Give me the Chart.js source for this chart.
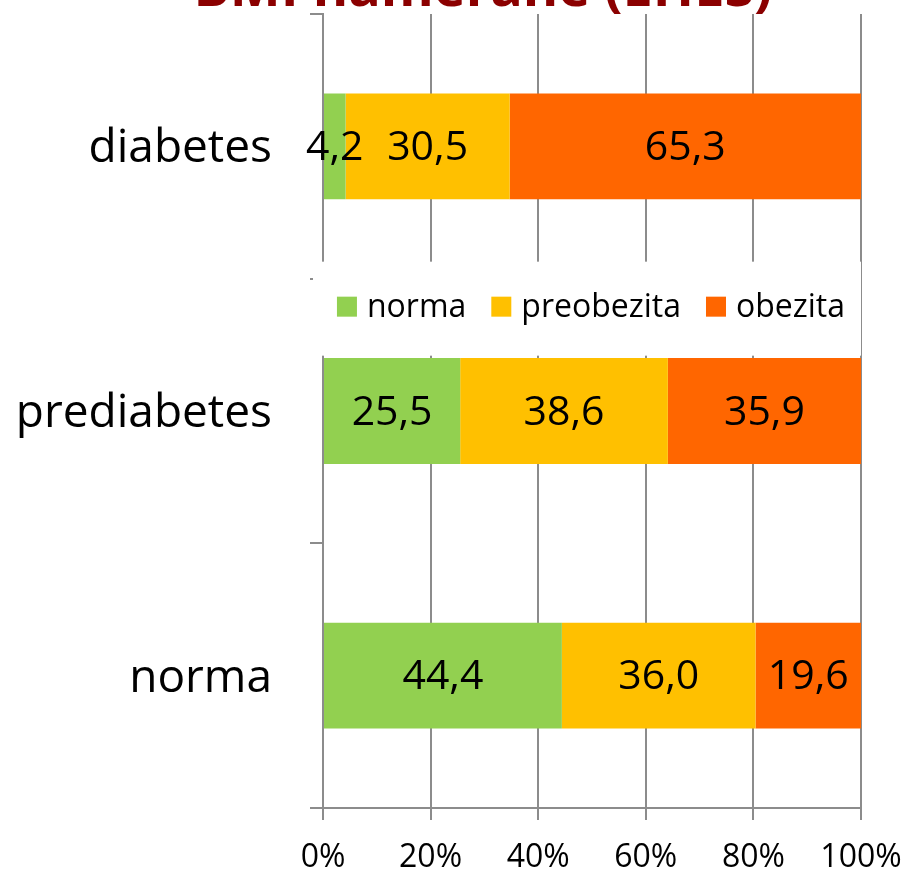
<!DOCTYPE html>
<html>
<head>
<meta charset="utf-8">
<title>BMI namerané (EHES)</title>
<script src="https://cdn.jsdelivr.net/npm/chart.js@4.4.1/dist/chart.umd.min.js"></script>
<style>
  html, body { margin: 0; padding: 0; background: #fff; overflow: hidden; }
  #wrap { position: relative; width: 906px; height: 873px; }
</style>
</head>
<body>
<div id="wrap"><canvas id="bmiChart" width="906" height="873"></canvas></div>
<script>
// data
const categories = ['diabetes', 'prediabetes', 'norma'];
const seriesNames = ['norma', 'preobezita', 'obezita'];
const normaValues = [4.2, 25.5, 44.4];
const preobezitaValues = [30.5, 38.6, 36.0];
const obezitaValues = [65.3, 35.9, 19.6];
const tickLabels = ['0%', '20%', '40%', '60%', '80%', '100%'];
const chartTitle = 'BMI namerané (EHES)';

const colors = ['#92D050', '#FFC000', '#FF6600'];
const gridColor = '#8c8c8c';
const FONT = '"Open Sans", "Noto Sans", sans-serif';

// labels inside the bars
const valueLabels = {
    id: 'valueLabels',
    afterDatasetsDraw(chart) {
        const ctx = chart.ctx;
        ctx.save();
        ctx.font = '41px ' + FONT;
        ctx.fillStyle = '#000';
        ctx.textAlign = 'center';
        ctx.textBaseline = 'middle';
        chart.data.datasets.forEach((ds, i) => {
            chart.getDatasetMeta(i).data.forEach((bar, j) => {
                const p = bar.getCenterPoint();
                ctx.fillText(ds.data[j].toFixed(1).replace('.', ','), p.x, p.y + 2);
            });
        });
        ctx.restore();
    }
};

// legend box sitting over the plot, between the first two bars
const innerLegend = {
    id: 'innerLegend',
    afterDatasetsDraw(chart) {
        const ctx = chart.ctx;
        const area = chart.chartArea;
        const yScale = chart.scales.y;
        const midY = (yScale.getPixelForValue(0) + yScale.getPixelForValue(1)) / 2 + 28;
        ctx.save();
        ctx.fillStyle = '#fff';
        ctx.fillRect(area.left - 10, midY - 45, area.right - area.left + 10, 94);

        ctx.font = '32px ' + FONT;
        ctx.textBaseline = 'middle';
        ctx.textAlign = 'left';
        const box = 20, gap = 10, itemGap = 25;
        const widths = chart.data.datasets.map(ds => box + gap + ctx.measureText(ds.label).width);
        const total = widths.reduce((a, b) => a + b, 0) + itemGap * (widths.length - 1);
        let x = (area.left - 10 + area.right) / 2 - total / 2 + 4;
        chart.data.datasets.forEach((ds, i) => {
            ctx.fillStyle = ds.backgroundColor;
            ctx.fillRect(x, midY - box / 2, box, box);
            ctx.fillStyle = '#000';
            ctx.fillText(ds.label, x + box + gap, midY + 1);
            x += widths[i] + itemGap;
        });
        ctx.restore();
    }
};

// title mostly cut off by the top edge, as in the picture
const cutTitle = {
    id: 'cutTitle',
    afterDraw(chart) {
        const ctx = chart.ctx;
        ctx.save();
        ctx.font = 'bold 54px ' + FONT;
        ctx.fillStyle = '#8B0000';
        ctx.textAlign = 'center';
        ctx.textBaseline = 'alphabetic';
        ctx.fillText(chartTitle, 483, 6);
        ctx.restore();
    }
};

new Chart(document.getElementById('bmiChart'), {
    type: 'bar',
    data: {
        labels: categories,
        datasets: [
            { label: seriesNames[0], data: normaValues, backgroundColor: colors[0] },
            { label: seriesNames[1], data: preobezitaValues, backgroundColor: colors[1] },
            { label: seriesNames[2], data: obezitaValues, backgroundColor: colors[2] }
        ]
    },
    options: {
        indexAxis: 'y',
        responsive: false,
        devicePixelRatio: 1,
        animation: false,
        barPercentage: 0.4,
        categoryPercentage: 1.0,
        layout: { padding: { top: 14, right: 45, left: 0, bottom: 0 } },
        plugins: {
            legend: { display: false },
            title: { display: false },
            tooltip: { enabled: false }
        },
        scales: {
            x: {
                stacked: true,
                min: 0,
                max: 100,
                afterFit(scale) {
                    scale.height = 65;
                    scale.paddingLeft = 0;
                    scale.paddingRight = 0;
                },
                afterBuildTicks(scale) {
                    scale.ticks = tickLabels.map((t, i) => ({ value: i * 20 }));
                },
                border: { color: gridColor, width: 2 },
                grid: { color: gridColor, lineWidth: 2, tickLength: 12, drawOnChartArea: true },
                ticks: {
                    padding: 19,
                    color: '#000',
                    font: { family: FONT, size: 32 },
                    callback: (v, i) => tickLabels[i]
                }
            },
            y: {
                stacked: true,
                afterFit(scale) {
                    scale.width = 323;
                    scale.paddingTop = 0;
                    scale.paddingBottom = 0;
                },
                border: { color: gridColor, width: 2 },
                grid: { offset: true, drawOnChartArea: false, color: gridColor, lineWidth: 2, tickLength: 13 },
                ticks: {
                    padding: 38,
                    labelOffset: 3,
                    color: '#000',
                    font: { family: FONT, size: 46 }
                }
            }
        }
    },
    plugins: [valueLabels, innerLegend, cutTitle]
});
</script>
</body>
</html>
